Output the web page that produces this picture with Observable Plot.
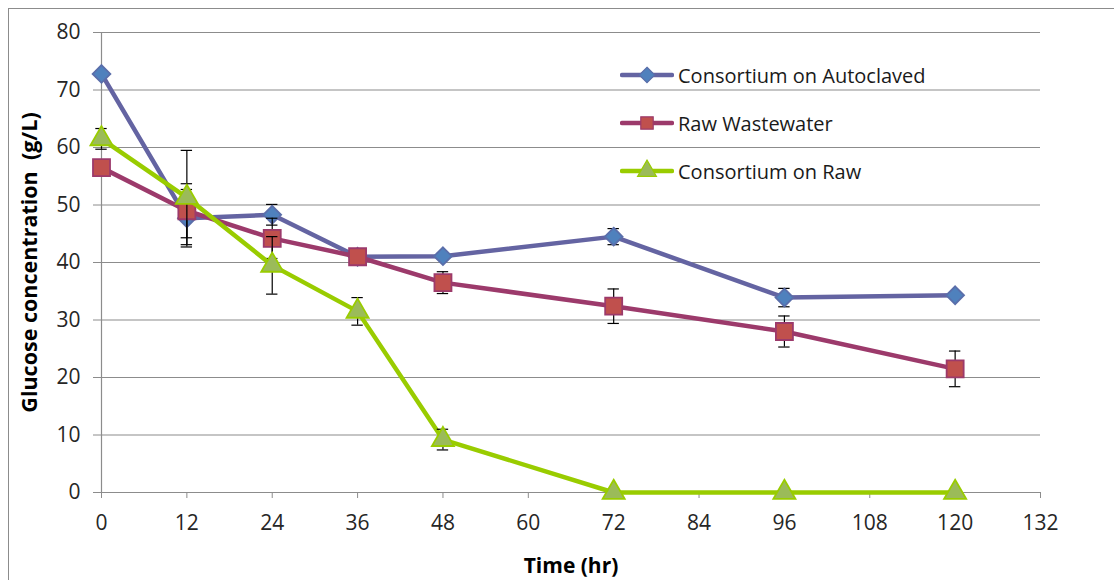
<!DOCTYPE html>
<html>
<head>
<meta charset="utf-8">
<script src="https://cdn.jsdelivr.net/npm/d3@7"></script>
<script src="https://cdn.jsdelivr.net/npm/@observablehq/plot@0.6"></script>
<style>
  html, body { margin: 0; padding: 0; background: #fff; }
  #wrap { position: relative; width: 1114px; height: 580px; overflow: hidden; font-family: "Open Sans", sans-serif; }
  #frame { position: absolute; left: 8px; top: 8px; width: 1200px; height: 700px; border: 1px solid #8c8c8c; box-sizing: border-box; pointer-events: none; }
  #legend { position: absolute; left: 620px; top: 60px; font-size: 20px; color: #1a1a1a; }
  .item { display: flex; align-items: center; height: 30px; margin-bottom: 18px; }
  .item svg { margin-right: 4px; }
</style>
</head>
<body>
<div id="wrap"><div id="frame"></div><div id="legend"></div></div>
<script>
const hours = [0, 12, 24, 36, 48, 72, 96, 120];
const seriesNames = ["Consortium on Autoclaved", "Raw Wastewater", "Consortium on Raw"];
const autoclaved = [72.8, 47.7, 48.3, 41.0, 41.1, 44.5, 33.9, 34.3];
const autoclavedErr = [0.5, 5.0, 1.8, 0.5, 0.5, 1.4, 1.6, 0.5];
const rawWW = [56.5, 49.0, 44.2, 41.0, 36.5, 32.4, 28.0, 21.5];
const rawWWErr = [0.8, 4.7, 3.5, 0.8, 1.9, 3.0, 2.7, 3.1];
const consRaw = [61.5, 51.3, 39.5, 31.5, 9.2, 0, 0, 0];
const consRawErr = [1.8, 8.2, 5.0, 2.4, 1.8, 0, 0, 0];
const xTicks = [0, 12, 24, 36, 48, 60, 72, 84, 96, 108, 120, 132];
const yTicks = [0, 10, 20, 30, 40, 50, 60, 70, 80];

const styles = [
  {line: "#6464a2", fill: "#4f81bd", stroke: "#5a6eaa", symbol: "diamond2", r: 8},
  {line: "#9c3a6b", fill: "#c0504d", stroke: "#9c3a6b", symbol: "square", r: 9.6},
  {line: "#99cc00", fill: "#9bbb59", stroke: "#99cc00", symbol: "triangle", r: 8.2}
];
const values = [autoclaved, rawWW, consRaw];
const errs = [autoclavedErr, rawWWErr, consRawErr];

const data = [];
values.forEach((vals, si) => vals.forEach((v, i) => data.push({series: seriesNames[si], si, x: hours[i], y: v, e: errs[si][i]})));

const capHalf = 0.8;
const axisMarks = [
  Plot.axisX({ticks: xTicks, tickSize: 6, tickPadding: 17, stroke: "#8c8c8c", fontSize: 21, color: "#262626", label: null, tickFormat: d => d}),
  Plot.axisY({ticks: yTicks, tickSize: 8, tickPadding: 13, stroke: "#8c8c8c", fontSize: 21, color: "#262626", label: null, tickFormat: d => d})
];
const seriesMarks = [];
values.forEach((vals, si) => {
  const d = data.filter(p => p.si === si);
  const st = styles[si];
  seriesMarks.push(Plot.line(d, {x: "x", y: "y", stroke: st.line, strokeWidth: 4.5, strokeLinejoin: "round"}));
  const de = d.filter(p => p.e > 0);
  seriesMarks.push(Plot.ruleX(de, {x: "x", y1: p => p.y - p.e, y2: p => p.y + p.e, stroke: "#000", strokeWidth: 1.2}));
  seriesMarks.push(Plot.ruleY(de, {y: p => p.y + p.e, x1: p => p.x - capHalf, x2: p => p.x + capHalf, stroke: "#000", strokeWidth: 1.2}));
  seriesMarks.push(Plot.ruleY(de, {y: p => p.y - p.e, x1: p => p.x - capHalf, x2: p => p.x + capHalf, stroke: "#000", strokeWidth: 1.2}));
  seriesMarks.push(Plot.dot(d, {x: "x", y: "y", symbol: () => st.symbol, r: st.r, fill: st.fill, stroke: st.stroke, strokeWidth: 1.8}));
});

const chart = Plot.plot({
  width: 1114,
  height: 580,
  marginLeft: 101,
  marginRight: 74,
  marginTop: 32,
  marginBottom: 88,
  style: {fontFamily: "'Open Sans', sans-serif", background: "transparent", overflow: "visible"},
  x: {domain: [0, 132]},
  y: {domain: [0, 80]},
  symbol: {type: "identity"},
  marks: [
    Plot.ruleY(yTicks.filter(t => t > 0), {stroke: "#8c8c8c", strokeWidth: 1.2}),
    Plot.ruleY([0], {stroke: "#8c8c8c", strokeWidth: 1.2}),
    Plot.ruleX([0], {stroke: "#8c8c8c", strokeWidth: 1.2}),
    ...axisMarks,
    ...seriesMarks,
    Plot.text(["Time (hr)"], {frameAnchor: "bottom", dy: 80, fontSize: 21, fontWeight: "bold", fill: "#000"}),
    Plot.text(["Glucose concentration  (g/L)"], {frameAnchor: "left", dx: -71, rotate: -90, textAnchor: "middle", fontSize: 21.5, fontWeight: "bold", fill: "#000"})
  ]
});
chart.style.position = "absolute";
chart.style.left = "0";
chart.style.top = "0";
document.getElementById("wrap").prepend(chart);

// legend
const legend = document.getElementById("legend");
seriesNames.forEach((name, si) => {
  const st = styles[si];
  const item = document.createElement("div");
  item.className = "item";
  const ns = "http://www.w3.org/2000/svg";
  const svg = document.createElementNS(ns, "svg");
  svg.setAttribute("width", "54");
  svg.setAttribute("height", "24");
  const ln = document.createElementNS(ns, "line");
  ln.setAttribute("x1", 2); ln.setAttribute("x2", 52); ln.setAttribute("y1", 12); ln.setAttribute("y2", 12);
  ln.setAttribute("stroke", st.line); ln.setAttribute("stroke-width", 4.5); ln.setAttribute("stroke-linecap", "round");
  svg.appendChild(ln);
  const p = document.createElementNS(ns, "path");
  const sym = {diamond2: d3.symbolDiamond2, square: d3.symbolSquare, triangle: d3.symbolTriangle}[st.symbol];
  p.setAttribute("d", d3.symbol(sym, Math.PI * 7 * 7)());
  p.setAttribute("transform", "translate(27,12)");
  p.setAttribute("fill", st.fill); p.setAttribute("stroke", st.stroke); p.setAttribute("stroke-width", 1.2);
  svg.appendChild(p);
  item.appendChild(svg);
  const t = document.createElement("span");
  t.textContent = name;
  item.appendChild(t);
  legend.appendChild(item);
});
</script>
</body>
</html>
